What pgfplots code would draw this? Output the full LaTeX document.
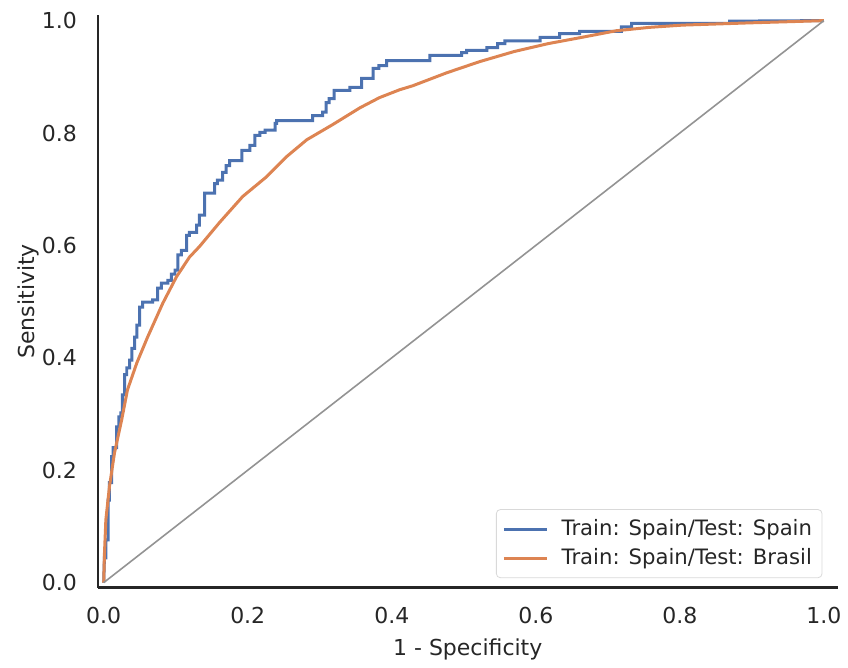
\documentclass[border=0pt]{standalone}
\usepackage{pgfplots}
\pgfplotsset{compat=1.18}
\usepackage{fontspec}
\setmainfont{DejaVu Sans}
\definecolor{sblue}{HTML}{4C72B0}
\definecolor{sorange}{HTML}{DD8452}
\definecolor{txt}{HTML}{262626}
\begin{document}
\begin{tikzpicture}[font=\fontsize{11}{13}\selectfont]
\begin{axis}[
  scale only axis, width=370pt, height=286.5pt,
  xmin=-0.008, xmax=1.019, ymin=-0.009, ymax=1.01,
  axis x line*=bottom, axis y line*=left,
  axis line style={draw=txt, line width=1.3pt},
  xtick={0,0.2,0.4,0.6,0.8,1.0}, ytick={0,0.2,0.4,0.6,0.8,1.0},
  major tick length=0pt,
  /pgf/number format/assume math mode=true,
  /pgf/number format/fixed,
  /pgf/number format/fixed zerofill,
  /pgf/number format/precision=1,
  tick label style={text=txt},
  xticklabel style={yshift=-6pt},
  yticklabel style={xshift=-7pt},
  xlabel={1 - Specificity}, ylabel={Sensitivity},
  label style={text=txt},
  xlabel style={yshift=-1pt},
  ylabel style={at={(axis description cs:-0.0946,0.5)}, anchor=center},
  legend style={at={(axis cs:0.998,0.008)}, anchor=south east, draw=black!15, rounded corners=2pt, text=txt, inner sep=3pt, row sep=1pt, font=\fontsize{10.6}{13}\selectfont},
  legend cell align=left,
  legend image code/.code={\draw[#1] (0cm,0cm) -- (0.75cm,0cm); \path (0.92cm,0cm);},
  clip=false,
]
\path (rel axis cs:0,0) ++(-49pt,-38.5pt) (rel axis cs:1,1) ++(5pt,7.5pt);
\addplot[sblue, line width=1.5pt] coordinates {
(0,0) (0.001,0.044) (0.003,0.044)(0.003,0.076)(0.006,0.076)(0.006,0.147)(0.008,0.147)(0.008,0.178)(0.011,0.178)(0.011,0.224)(0.013,0.224)(0.013,0.24)(0.018,0.24)(0.018,0.277)(0.021,0.277)(0.021,0.295)(0.024,0.295)(0.024,0.302)(0.026,0.302)(0.026,0.334)(0.029,0.334)(0.029,0.37)(0.032,0.37)(0.032,0.382)(0.036,0.382)(0.036,0.396)(0.039,0.396)(0.039,0.417)(0.043,0.417)(0.043,0.437)(0.046,0.437)(0.046,0.458)(0.05,0.458)(0.05,0.49)(0.054,0.49)(0.054,0.499)(0.068,0.499)(0.068,0.503)(0.075,0.503)(0.075,0.524)(0.08,0.524)(0.08,0.533)(0.089,0.533)(0.089,0.538)(0.094,0.538)(0.094,0.549)(0.099,0.549)(0.099,0.556)(0.103,0.556)(0.103,0.583)(0.108,0.583)(0.108,0.591)(0.115,0.591)(0.115,0.618)(0.119,0.618)(0.119,0.623)(0.129,0.623)(0.129,0.636)(0.133,0.636)(0.133,0.654)(0.14,0.654)(0.14,0.693)(0.154,0.693)(0.154,0.71)(0.158,0.71)(0.158,0.716)(0.165,0.716)(0.165,0.73)(0.17,0.73)(0.17,0.742)(0.175,0.742)(0.175,0.751)(0.192,0.751)(0.192,0.769)(0.203,0.769)(0.203,0.778)(0.21,0.778)(0.21,0.796)(0.217,0.796)(0.217,0.801)(0.224,0.801)(0.224,0.805)(0.238,0.805)(0.238,0.817)(0.24,0.817)(0.24,0.822)(0.29,0.822)(0.29,0.831)(0.304,0.831)(0.304,0.837)(0.309,0.837)(0.309,0.854)(0.313,0.854)(0.313,0.861)(0.32,0.861)(0.32,0.876)(0.342,0.876)(0.342,0.881)(0.358,0.881)(0.358,0.897)(0.374,0.897)(0.374,0.915)(0.382,0.915)(0.382,0.92)(0.393,0.92)(0.393,0.929)(0.453,0.929)(0.453,0.938)(0.497,0.938)(0.497,0.943)(0.504,0.943)(0.504,0.947)(0.532,0.947)(0.532,0.952)(0.547,0.952)(0.547,0.959)(0.557,0.959)(0.557,0.964)(0.606,0.964)(0.606,0.97)(0.633,0.97)(0.633,0.977)(0.661,0.977)(0.661,0.981)(0.719,0.981)(0.719,0.989)(0.733,0.989)(0.733,0.995)(0.869,0.995)(0.869,0.999)(1,1)
};
\addlegendentry{Train: Spain/Test: Spain}
\addplot[sorange, line width=1.5pt] coordinates {
(0,0)(0.001,0.05)(0.003,0.112)(0.008,0.171)(0.015,0.231)(0.025,0.29)(0.033,0.343)(0.046,0.391)(0.061,0.437)(0.082,0.497)(0.101,0.544)(0.119,0.579)(0.133,0.598)(0.161,0.641)(0.193,0.687)(0.226,0.722)(0.254,0.758)(0.282,0.788)(0.318,0.815)(0.356,0.845)(0.383,0.863)(0.411,0.877)(0.429,0.884)(0.476,0.907)(0.522,0.927)(0.57,0.945)(0.617,0.959)(0.663,0.97)(0.712,0.982)(0.758,0.988)(0.804,0.992)(0.851,0.994)(0.897,0.996)(0.95,0.998)(1,1)
};
\addlegendentry{Train: Spain/Test: Brasil}
\addplot[gray!85, line width=0.8pt, forget plot] coordinates {(0,0) (1,1)};
\end{axis}
\end{tikzpicture}
\end{document}
